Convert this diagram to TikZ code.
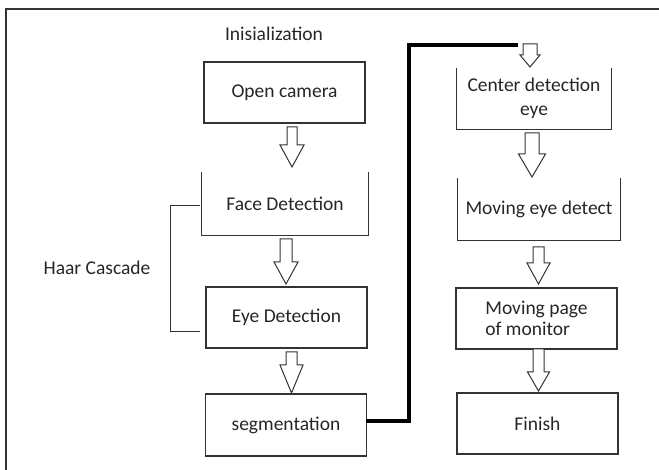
\documentclass[tikz,border=0pt]{standalone}
\usepackage{fontspec}
\setmainfont{Carlito}
\begin{document}
\begin{tikzpicture}[x=1pt,y=-1pt,
  every node/.style={font=\fontsize{19.5}{24}\selectfont, text=black!85},
  box/.style={draw=black!80, line width=1.15pt, minimum width=161pt, minimum height=61pt, inner sep=0pt},
  openbox/.style={minimum width=161pt, minimum height=61pt, inner sep=0pt},
  side/.style={draw=black!80, line width=1.15pt},
  blockarrow/.style={draw=black!80, line width=1pt, fill=white, line join=miter},
  link/.style={draw=black, line width=3.4pt},
  brace/.style={draw=black!80, line width=1pt}]
\useasboundingbox (0,0) rectangle (659,470);

% frame
\draw[black!80, line width=1.4pt] (659,9) -- (6,9) -- (6,470);

\newcommand\hollowarrow[6]{%
  \draw[blockarrow] ({#1-#5},#2) -- ({#1+#5},#2) -- ({#1+#5},#3) -- ({#1+#6},#3)
    -- (#1,#4) -- ({#1-#6},#3) -- ({#1-#5},#3) -- cycle;}

% left column
\node (init) at (274,34) {Inisialization};
\node[box] (open) at (284.5,92.5) {Open camera};
\node[openbox, minimum width=166pt, minimum height=63pt] (face) at (285,203.5) {Face Detection};
\draw[side] (face.north west) -- (face.south west) -- (face.south east) -- (face.north east);
\node[box] (eye) at (286.5,317.5) {Eye Detection};
\node[box, minimum height=62pt] (seg) at (286,425) {segmentation};

% right column
\node[openbox, minimum width=154pt] (center) at (534,98.5)
  [align=center] {Center detection\\eye};
\draw[side] (center.north west) -- (center.south west) -- (center.south east) -- (center.north east);
\node[openbox, minimum width=162pt, minimum height=62pt] (moveeye) at (539,209) {Moving eye detect};
\draw[side] (moveeye.north west) -- (moveeye.south west) -- (moveeye.south east) -- (moveeye.north east);
\node[box, align=left, font=\fontsize{19.5}{21}\selectfont] (page) at (536.5,318.5) {Moving page\\of monitor};
\node[box] (finish) at (537.5,423.5) {Finish};

% block arrows
\hollowarrow{292}{127}{145}{167}{5}{12}
\hollowarrow{286}{239}{262}{284}{6}{12}
\hollowarrow{291.5}{352}{365}{393}{5.5}{11.5}
\hollowarrow{530}{44}{55}{67}{7}{10}
\hollowarrow{532}{133}{154}{177}{7}{13.5}
\hollowarrow{538.5}{247}{263}{284}{5.5}{11.5}
\hollowarrow{538.5}{349}{372}{391}{5.5}{11}

% Haar cascade bracket
\node (haar) at (97,268) {Haar Cascade};
\coordinate (bt) at (200,206);
\coordinate (bb) at (200,332);
\draw[brace] (bt) -- (170,206) -- (170,332) -- (bb);

% link between columns
\coordinate (segout) at (366,421);
\coordinate (topin) at (518,45);
\draw[link] (segout) -- (409,421) |- (topin);
\end{tikzpicture}
\end{document}
